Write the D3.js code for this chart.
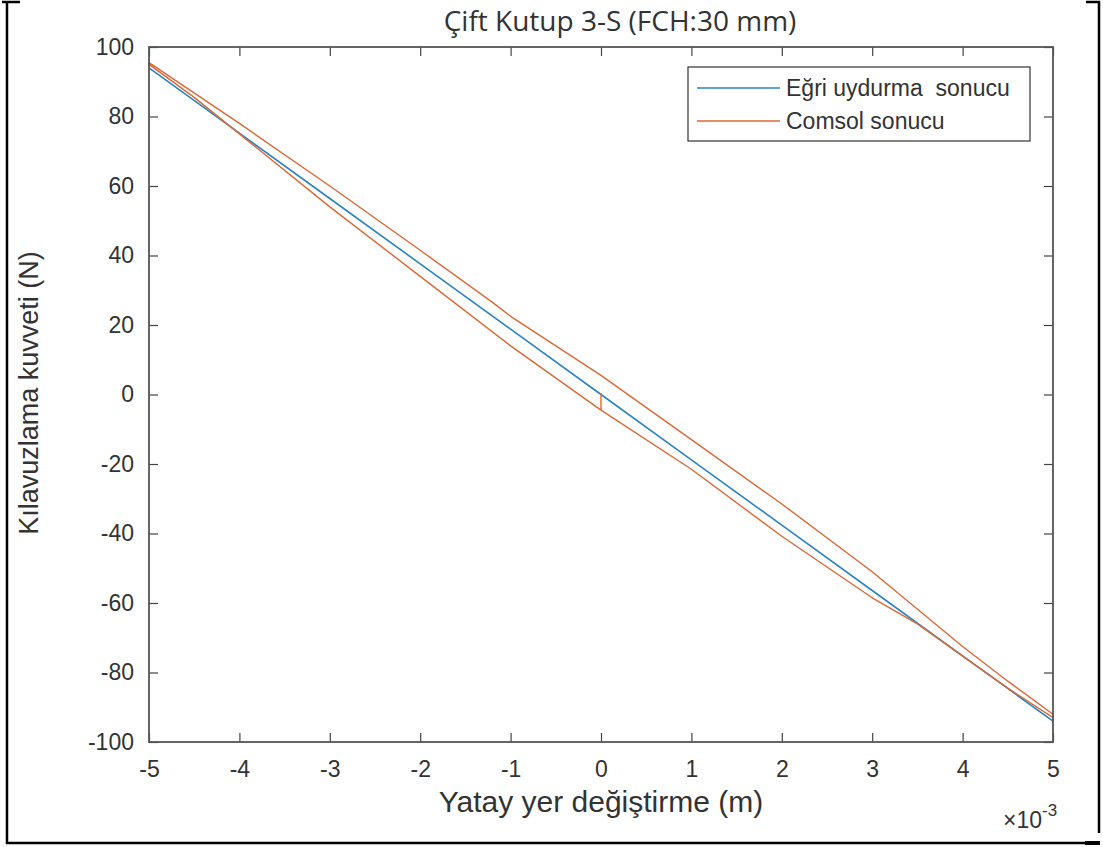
<!DOCTYPE html>
<html>
<head>
<meta charset="utf-8">
<script src="https://cdn.jsdelivr.net/npm/d3@7"></script>
<style>
  body { margin: 0; background: #fff; }
  text { font-family: "Liberation Sans", Arial, sans-serif; fill: #333; }
</style>
</head>
<body>
<div id="chart-area"></div>
<script>
// chart values (x in units of 1e-3 m, force in N)
const xTicks = [-5, -4, -3, -2, -1, 0, 1, 2, 3, 4, 5]
const yTicks = [-100, -80, -60, -40, -20, 0, 20, 40, 60, 80, 100]

const fitX = [-5, -4, -3, -2, -1, 0, 1, 2, 3, 4, 5]
const fitF = [94, 75.2, 56.4, 37.6, 18.8, 0, -18.8, -37.6, -56.4, -75.2, -94]

// comsol loop: start at origin, lower branch to +5, upper back to -5, lower to 0
const comsolX = [0, 0, 1, 2, 3, 3.5, 4, 4.5, 5,
  5, 4.5, 4, 3, 2, 1, 0, -1, -1.2, -2, -3, -4, -5,
  -5, -4.5, -4, -3, -2, -1, 0]
const comsolF = [0.4, -4.5, -21.5, -40.8, -58.5, -66, -75.3, -84.5, -93,
  -92, -82.5, -72.5, -51, -31.5, -13, 5.5, 22.5, 26.5, 41.5, 60, 78, 95.5,
  95, 85.5, 75, 54, 34, 14, -4.5]

const seriesNames = ["Eğri uydurma  sonucu", "Comsol sonucu"]
const seriesColors = ["#2a84c4", "#dc6836"]

const WIDTH = 1103, HEIGHT = 847
const PLOT = {LEFT: 149, RIGHT: 1053, TOP: 47, BOTTOM: 742}

const svg = d3.select("#chart-area").append("svg")
  .attr("width", WIDTH)
  .attr("height", HEIGHT)

svg.append("rect").attr("width", WIDTH).attr("height", HEIGHT).attr("fill", "#fff")

const x = d3.scaleLinear().domain([-0.005, 0.005]).range([PLOT.LEFT, PLOT.RIGHT])
const y = d3.scaleLinear().domain([-100, 100]).range([PLOT.BOTTOM, PLOT.TOP])

// lines
const line = d3.line().x(d => x(d[0] * 1e-3)).y(d => y(d[1]))
const fitData = fitX.map((v, i) => [v, fitF[i]])
const comsolData = comsolX.map((v, i) => [v, comsolF[i]])

svg.append("path").datum(fitData)
  .attr("d", line).attr("fill", "none")
  .attr("stroke", seriesColors[0]).attr("stroke-width", 1.6)
svg.append("path").datum(comsolData)
  .attr("d", line).attr("fill", "none")
  .attr("stroke", seriesColors[1]).attr("stroke-width", 1.4)
  .attr("stroke-linejoin", "round")

// axes, ticks inside, box on (matlab uses plain hyphen for minus)
const tickLen = 9
const xAxisCall = d3.axisBottom(x).tickValues(xTicks.map(d => d * 1e-3))
  .tickFormat(d => String(Math.round(d * 1e3)))
  .tickSize(-tickLen).tickPadding(19)
const xAxisTop = d3.axisTop(x).tickValues(xTicks.map(d => d * 1e-3))
  .tickFormat("").tickSize(-tickLen)
const yAxisCall = d3.axisLeft(y).tickValues(yTicks)
  .tickFormat(d => String(d)).tickSize(-tickLen).tickPadding(15)
const yAxisRight = d3.axisRight(y).tickValues(yTicks)
  .tickFormat("").tickSize(-tickLen)

const axes = [
  svg.append("g").attr("class", "x axis").attr("transform", `translate(0,${PLOT.BOTTOM})`).call(xAxisCall),
  svg.append("g").attr("class", "x axis").attr("transform", `translate(0,${PLOT.TOP})`).call(xAxisTop),
  svg.append("g").attr("class", "y axis").attr("transform", `translate(${PLOT.LEFT},0)`).call(yAxisCall),
  svg.append("g").attr("class", "y axis").attr("transform", `translate(${PLOT.RIGHT},0)`).call(yAxisRight)
]
axes.forEach(a => {
  a.select(".domain").remove()
  a.selectAll(".tick line").attr("stroke", "#444").attr("stroke-width", 1.2)
  a.selectAll(".tick text").attr("fill", "#333").style("font-size", "23px")
    .style("font-family", "'Liberation Sans', Arial, sans-serif")
})

svg.append("rect")
  .attr("x", PLOT.LEFT).attr("y", PLOT.TOP)
  .attr("width", PLOT.RIGHT - PLOT.LEFT).attr("height", PLOT.BOTTOM - PLOT.TOP)
  .attr("fill", "none").attr("stroke", "#555").attr("stroke-width", 1.8)

// exponent label
const expo = svg.append("text").attr("x", 1003).attr("y", 828).style("font-size", "23px").attr("fill", "#555")
expo.append("tspan").text("×10")
expo.append("tspan").attr("dy", -12).style("font-size", "17px").text("-3")

// axis titles
svg.append("text")
  .attr("x", 601).attr("y", 812)
  .attr("text-anchor", "middle")
  .style("font-size", "30px")
  .text("Yatay yer değiştirme (m)")

svg.append("text")
  .attr("transform", `translate(38,393) rotate(-90)`)
  .attr("text-anchor", "middle")
  .style("font-size", "27px")
  .text("Kılavuzlama kuvveti (N)")

svg.append("text")
  .attr("x", 620).attr("y", 31)
  .attr("text-anchor", "middle")
  .style("font-family", "'Open Sans', sans-serif")
  .style("font-size", "28px")
  .attr("fill", "#222")
  .text("Çift Kutup 3-S (FCH:30 mm)")

// legend
const legend = svg.append("g").attr("transform", "translate(688,67)")
legend.append("rect")
  .attr("width", 342).attr("height", 74)
  .attr("fill", "#fff").attr("stroke", "#333").attr("stroke-width", 1.2)
seriesNames.forEach((name, i) => {
  const ly = 21 + i * 33
  legend.append("line")
    .attr("x1", 9).attr("x2", 92).attr("y1", ly).attr("y2", ly)
    .attr("stroke", seriesColors[i]).attr("stroke-width", 1.6)
  legend.append("text")
    .attr("x", 98).attr("y", ly + 8)
    .style("font-size", "23px")
    .style("white-space", "pre")
    .attr("fill", "#222")
    .text(name)
})

// outer frame (page border)
const frame = svg.append("g").attr("stroke", "#000").attr("stroke-width", 2.5).attr("fill", "none")
frame.append("path").attr("d", "M2,2 H20 M7,2 V843 H1098")
frame.append("path").attr("d", "M1086,2 H1099 V833")
frame.append("path").attr("d", "M1085,843 H1100").attr("stroke-width", 4)
</script>
</body>
</html>
